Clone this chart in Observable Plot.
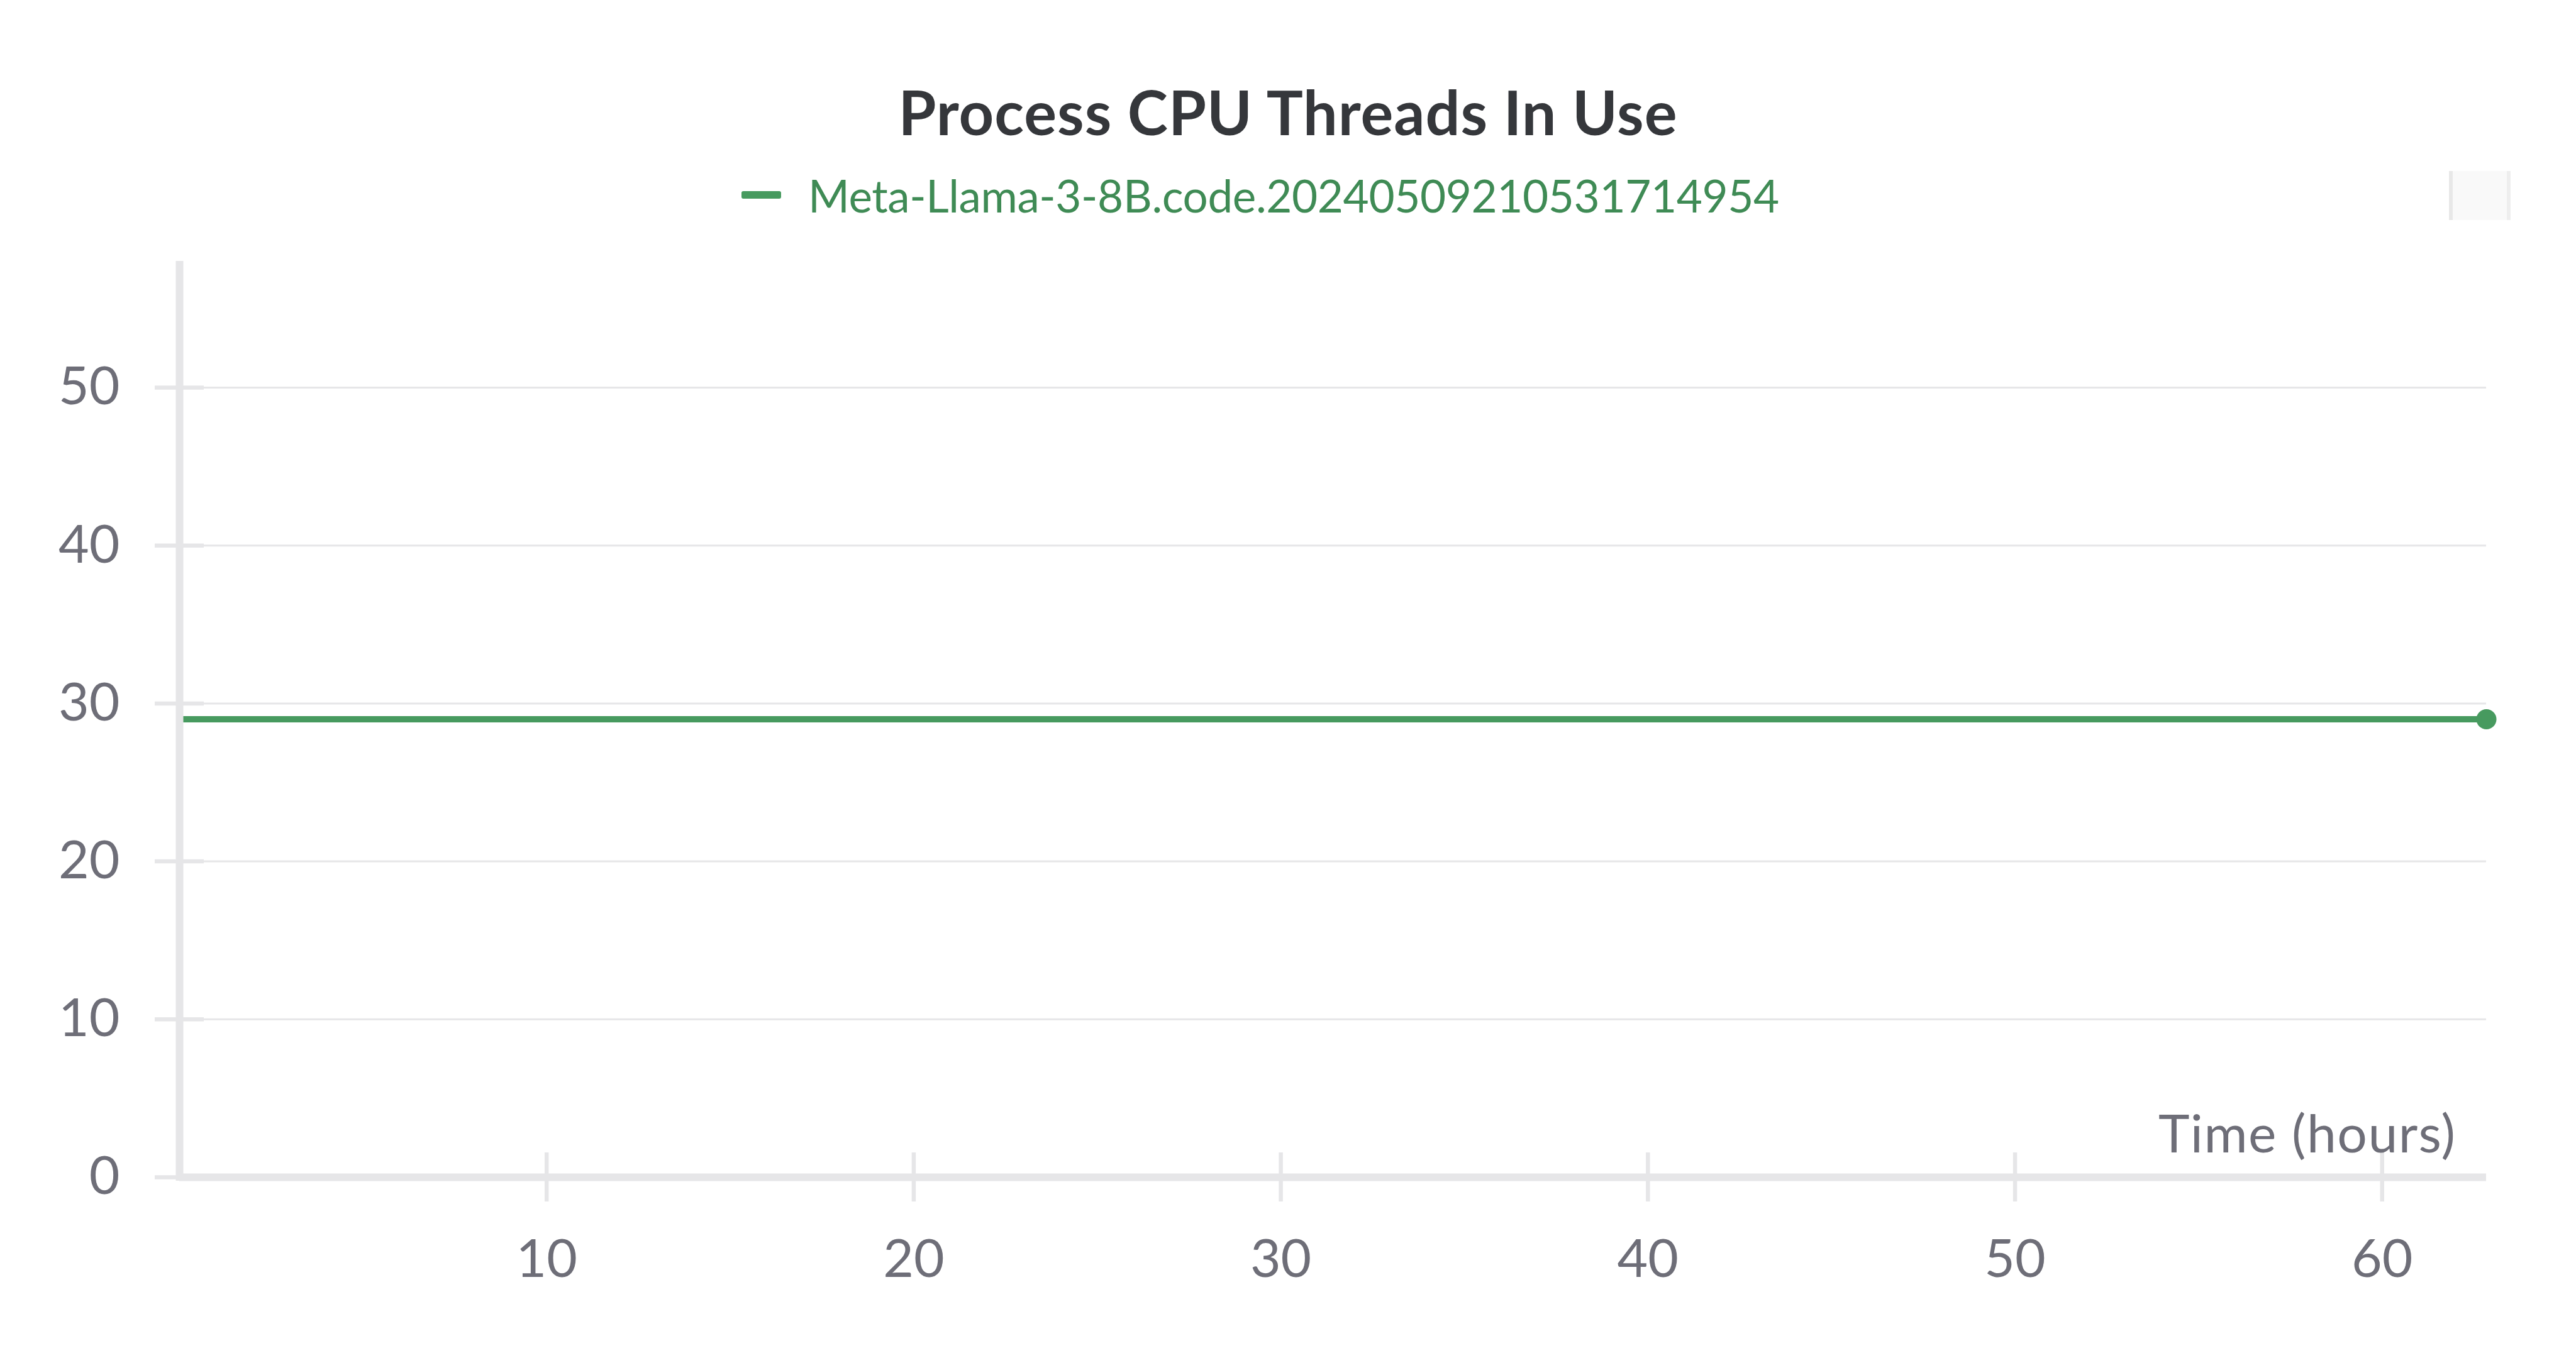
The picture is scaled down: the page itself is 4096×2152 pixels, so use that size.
<!DOCTYPE html>
<html><head><meta charset="utf-8">
<script src="https://cdn.jsdelivr.net/npm/d3@7"></script>
<script src="https://cdn.jsdelivr.net/npm/@observablehq/plot@0.6"></script>
<style>
html,body{margin:0;padding:0;background:#fff;}
body{width:4096px;height:2152px;overflow:hidden;font-family:Lato,"Noto Sans",sans-serif;}
#header{position:relative;width:4096px;height:380px;}
#title{position:absolute;left:0;width:4096px;top:129px;text-align:center;font-size:97px;letter-spacing:1px;font-weight:700;line-height:1;color:#35373b;white-space:nowrap;}
#swatch{position:absolute;left:1179px;top:304px;width:63px;height:12px;border-radius:3px;background:#479a5f;}
#legtext{position:absolute;left:1285px;top:275px;font-size:71px;letter-spacing:-0.4px;line-height:1;color:#3f8b55;white-space:nowrap;}
#box{position:absolute;left:3894px;top:272px;width:86px;height:78px;background:#f9f9f9;border-left:6px solid #e8e8e8;border-right:6px solid #eeeeee;}
</style></head>
<body>
<div id="header">
  <div id="title"></div>
  <div id="swatch"></div>
  <div id="legtext"></div>
  <div id="box"></div>
</div>
<div id="chart"></div>
<script>
const chartTitle = "Process CPU Threads In Use";
const seriesName = "Meta-Llama-3-8B.code.20240509210531714954";
const xLabel = "Time (hours)";
const times = [0.02, 62.84];
const threads = [29, 29];
const yTicks = [0, 10, 20, 30, 40, 50];
const xTicks = [10, 20, 30, 40, 50, 60];

document.getElementById("title").textContent = chartTitle;
document.getElementById("legtext").textContent = seriesName;

const data = times.map((t, i) => ({t, v: threads[i]}));
const W = 4096, H = 1772, mL = 285, mR = 143, mT = 35, mB = 280;
const fw = W - mL - mR, fh = H - mT - mB;
const axisColor = "#e6e6e8", textColor = "#6e6e78", lineColor = "#479a5f";

const chart = Plot.plot({
  width: W, height: H,
  marginLeft: mL, marginRight: mR, marginTop: mT, marginBottom: mB,
  x: {domain: [0, 62.84]},
  y: {domain: [0, 58]},
  style: {fontFamily: "Lato, 'Noto Sans', sans-serif", fontSize: "84px", color: textColor, background: "white", overflow: "visible"},
  marks: [
    Plot.gridY({ticks: yTicks.filter(d => d > 0), stroke: axisColor, strokeOpacity: 1, strokeWidth: 3}),
    Plot.lineY(data, {x: "t", y: "v", stroke: lineColor, strokeWidth: 10}),
    Plot.dot(data.slice(-1), {x: "t", y: "v", r: 16, fill: lineColor}),
    Plot.ruleX([0], {stroke: axisColor, strokeWidth: 12, insetBottom: -6}),
    Plot.ruleY([0], {stroke: axisColor, strokeWidth: 12}),
    Plot.tickY(yTicks, {y: d => d, stroke: axisColor, strokeWidth: 6.5, dx: -39, insetRight: fw - 78}),
    Plot.tickX(xTicks, {x: d => d, stroke: axisColor, strokeWidth: 6.5, dy: 39, insetTop: fh - 78}),
    Plot.axisY({ticks: yTicks, tickSize: 0, tickPadding: 95, label: null, fill: textColor}),
    Plot.axisX({ticks: xTicks, tickSize: 0, tickPadding: 99, label: null, fill: textColor}),
    Plot.text([xLabel], {frameAnchor: "bottom-right", dx: -48, dy: -99, textAnchor: "end", lineAnchor: "top", fill: textColor, fontSize: 84})
  ]
});
d3.select(chart).selectAll("text").filter(function() { return this.textContent === xLabel; })
  .attr("letter-spacing", "1.5px");
document.getElementById("chart").appendChild(chart);
</script>
</body></html>
